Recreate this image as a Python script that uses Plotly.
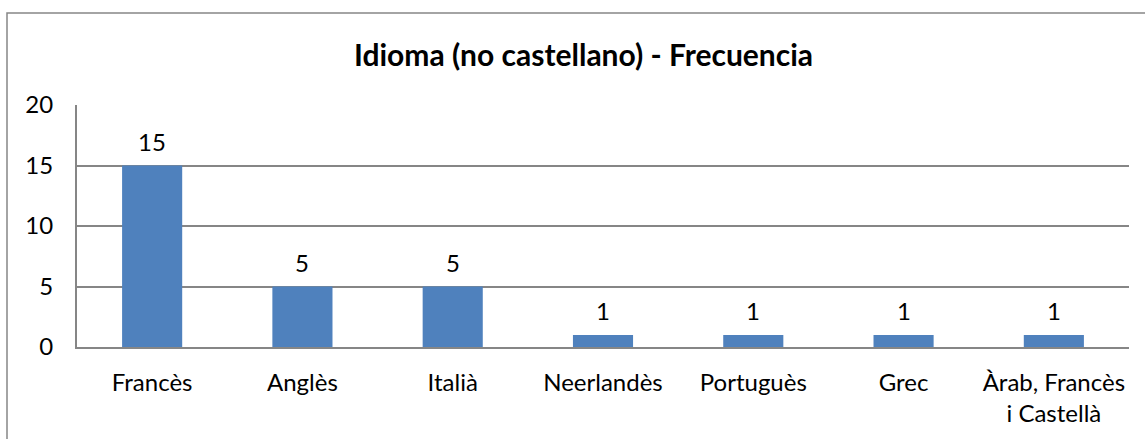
import plotly.graph_objects as go

categories = ["Francès", "Anglès", "Italià", "Neerlandès", "Portuguès", "Grec", "Àrab, Francès<br>i Castellà"]
values = [15, 5, 5, 1, 1, 1, 1]
y_ticks = [0, 5, 10, 15, 20]
title_text = "Idioma (no castellano) - Frecuencia"

FONT = "Lato, Carlito, Calibri, sans-serif"
BAR = "#4F81BD"
GRID = "#868686"

W, H = 1145, 439
ml, mr, mt, mb = 77, 16, 105, 92
pw, ph = W - ml - mr, H - mt - mb

fig = go.Figure()
fig.add_trace(go.Bar(x=categories, y=values, marker=dict(color=BAR, line=dict(width=0)),
                     hoverinfo="x+y"))

for c, v in zip(categories, values):
    fig.add_annotation(x=c, y=v, text=str(v), showarrow=False, yanchor="bottom",
                       yshift=8, font=dict(family=FONT, size=24, color="#000000"))

# chart border (outer frame)
fig.add_shape(type="rect", xref="paper", yref="paper",
              x0=(7 - ml) / pw, x1=(W + 10 - ml) / pw,
              y0=(H - mb - (H + 10)) / ph, y1=(H - mb - 13) / ph,
              line=dict(color=GRID, width=1.5), fillcolor="rgba(0,0,0,0)", layer="below")

fig.add_annotation(xref="paper", yref="paper", x=(583 - ml) / pw, y=(H - mb - 54) / ph,
                   text="<b>" + title_text + "</b>", showarrow=False,
                   xanchor="center", yanchor="middle",
                   font=dict(family=FONT, size=30, color="#000000"))

fig.update_layout(
    width=W, height=H,
    margin=dict(l=ml, r=mr, t=mt, b=mb, pad=0),
    paper_bgcolor="white", plot_bgcolor="white",
    bargap=0.6, showlegend=False,
    font=dict(family=FONT, size=24, color="#000000"),
    xaxis=dict(type="category", showgrid=False, showline=True, linecolor=GRID, linewidth=2,
               ticks="", tickfont=dict(family=FONT, size=24), ticklabelstandoff=13),
    yaxis=dict(range=[0, 20], tickvals=y_ticks, showgrid=True, gridcolor=GRID, gridwidth=1.5,
               showline=True, linecolor=GRID, linewidth=2, zeroline=False, ticks="",
               tickfont=dict(family=FONT, size=24), ticklabelstandoff=17),
)

fig.write_html("out.html", config={"displayModeBar": False},
               post_script="document.body.style.margin='0';")
